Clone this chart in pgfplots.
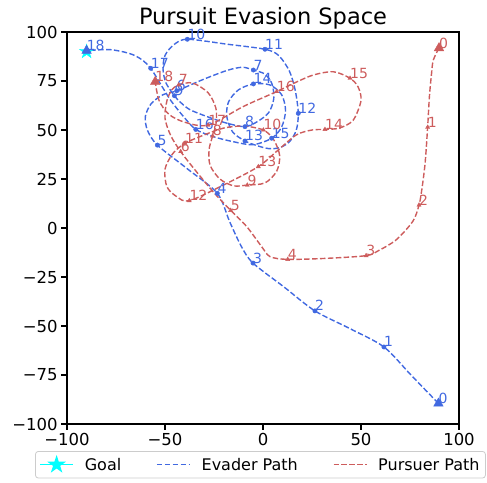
\documentclass[border=0pt]{standalone}
\usepackage{pgfplots}
\pgfplotsset{compat=1.18}
\usepackage{fontspec}
\setmainfont{DejaVu Sans}
\definecolor{eva}{RGB}{65,105,225}
\definecolor{pur}{RGB}{205,92,92}
\definecolor{goalc}{RGB}{0,255,255}
\pgfdeclareplotmark{fstar}{%
  \pgfpathmoveto{\pgfpointpolar{90}{\pgfplotmarksize}}%
  \pgfpathlineto{\pgfpointpolar{126}{0.382\pgfplotmarksize}}%
  \pgfpathlineto{\pgfpointpolar{162}{\pgfplotmarksize}}%
  \pgfpathlineto{\pgfpointpolar{198}{0.382\pgfplotmarksize}}%
  \pgfpathlineto{\pgfpointpolar{234}{\pgfplotmarksize}}%
  \pgfpathlineto{\pgfpointpolar{270}{0.382\pgfplotmarksize}}%
  \pgfpathlineto{\pgfpointpolar{306}{\pgfplotmarksize}}%
  \pgfpathlineto{\pgfpointpolar{342}{0.382\pgfplotmarksize}}%
  \pgfpathlineto{\pgfpointpolar{18}{\pgfplotmarksize}}%
  \pgfpathlineto{\pgfpointpolar{54}{0.382\pgfplotmarksize}}%
  \pgfpathclose\pgfusepathqfillstroke}
\begin{document}
\begin{tikzpicture}
\begin{axis}[
  at={(0pt,0pt)}, anchor=south west,
  scale only axis, width=392pt, height=392pt,
  xmin=-100, xmax=100, ymin=-100, ymax=100,
  xtick={-100,-50,0,50,100},
  xticklabels={−100,−50,0,50,100},
  ytick={-100,-75,-50,-25,0,25,50,75,100},
  yticklabels={−100,−75,−50,−25,0,25,50,75,100},
  tick align=outside, major tick length=5.8pt,
  every tick/.style={black, line width=1.3pt},
  axis line style={line width=1.3pt},
  tick label style={font=\fontsize{16.5}{18}\selectfont},
  xtick pos=bottom, ytick pos=left,
  title={Pursuit Evasion Space},
  title style={at={(0.5,1)}, anchor=base, yshift=1.5pt, font=\fontsize{22.5}{26}\selectfont},
  legend columns=3,
  legend style={at={(-0.0816,-0.0689)}, anchor=north west, draw=black!20, line width=0.8pt,
    rounded corners=3pt, font=\fontsize{16}{18}\selectfont, inner xsep=4pt, inner ysep=4.5pt,
    /tikz/every odd column/.append style={column sep=9pt},
    /tikz/every even column/.append style={column sep=33pt}},
  legend image code/.code={\draw[mark repeat=2,mark phase=2,#1] plot coordinates {(0pt,0pt)(16.5pt,0pt)(33pt,0pt)};},
]
\addlegendimage{goalc, line width=1.4pt, mark=fstar, mark size=7.5pt, mark options={solid, fill=goalc}}
\addlegendentry{Goal}
\addlegendimage{eva, line width=1.4pt, dash pattern=on 5.5pt off 2.4pt}
\addlegendentry{Evader Path}
\addlegendimage{pur, line width=1.4pt, dash pattern=on 5.5pt off 2.4pt}
\addlegendentry{Pursuer Path}

% goal
\addplot[forget plot, only marks, mark=fstar, mark size=7.5pt, draw=goalc, fill=goalc] coordinates {(-90,90)};

% evader path (traced from the picture)
\addplot[forget plot, eva, line width=1.4pt, dash pattern=on 5.5pt off 2.4pt, smooth, tension=0.5] coordinates {
(89.5,-89.5) (75.6,-75.1)
(61.7,-60.7) (44.3,-51.3)
(26.5,-42.3) (10.6,-30)
(-5.1,-17.9) (-11,-9.5) (-17,3.2)
(-23.3,17.7) (-38.6,30.2)
(-53.9,42.3)
(-59,50) (-60,57) (-57,63.5) (-51,68)
(-44,70)
(-30,76) (-18,80.5) (-10.5,82)
(-4.9,80.6)
(1,78.5) (4.6,73.5) (5.5,66) (3,59) (-2.5,54.5)
(-9.2,51.7)
(-18.5,53.5) (-29,57) (-37.5,60.5) (-42.5,64.5)
(-45.2,67.5)
(-49.5,74) (-51,81) (-50,88) (-45.5,93.5)
(-38.6,96.3)
(-18.5,93.8)
(1,91.2)
(8,88) (13.5,80) (16.5,70)
(18,58.5)
(17,50) (13.5,44) (8.5,41) (3,40.5) (-3,42)
(-9.2,44.4)
(-15.5,49) (-18.5,57) (-17.5,64.5) (-12.5,70.5)
(-4.9,73.5)
(3.5,73) (9.5,68) (11.5,60) (9.5,51.5)
(4.4,45.8)
(-5,42.5) (-15,44) (-25,46.5)
(-34.3,50.3)
(-40.6,56.9) (-47,65) (-52.5,73.8)
(-57.3,81.5)
(-62,86) (-68,89) (-78,91)
(-90,90.5)};
\addplot[forget plot, only marks, eva, mark=*, mark size=2.2pt, point meta=explicit symbolic,
  nodes near coords, nodes near coords style={anchor=base west, inner sep=0pt, font=\fontsize{14}{14}\selectfont, text=eva}]
coordinates {
(61.7,-60.7) [1] (26.5,-42.3) [2] (-5.1,-17.9) [3] (-23.3,17.7) [4] (-53.9,42.3) [5] (-44,70) [6] (-4.9,80.6) [7]
(-9.2,51.7) [8] (-45.2,67.5) [9] (-38.6,96.3) [10] (1,91.2) [11] (18,58.5) [12] (-9.2,44.4) [13] (-4.9,73.5) [14] (4.4,45.8) [15]
(-34.3,50.3) [16] (-57.3,81.5) [17]};
\addplot[forget plot, only marks, eva, mark=triangle*, mark size=5.5pt, point meta=explicit symbolic,
  nodes near coords, nodes near coords style={anchor=base west, inner sep=0pt, font=\fontsize{14}{14}\selectfont, text=eva}]
coordinates {(89.5,-89.5) [0] (-90,90.5) [18]};

% pursuer path (traced from the picture)
\addplot[forget plot, pur, line width=1.4pt, dash pattern=on 5.5pt off 2.4pt, smooth, tension=0.5] coordinates {
(89.8,91.8) (86.9,85.7) (86,78.9) (84.9,67)
(84,51.4)
(82.7,33) (81,19.4)
(79.6,11.7)
(76.5,3.5) (68,-6) (59,-11.5)
(52.6,-14.1)
(32,-15.5)
(12.6,-16)
(3.6,-14.6) (-0.7,-9.5) (-8.3,0.7)
(-16.5,9)
(-25,18) (-35,30)
(-42,39)
(-47,47) (-50,56) (-49,65) (-46.5,70.5)
(-43,73)
(-36,74) (-28,69) (-24,61) (-24,53)
(-25.7,47)
(-27.5,40) (-27,32) (-22,25) (-15,21.5)
(-8,21.9)
(1,23) (7,29) (8.5,37) (5.5,45)
(0.2,50)
(-10,52) (-20,51) (-30,47.5)
(-39.8,43.2)
(-46,38) (-50,30) (-49,21) (-44,16)
(-37.6,13.9)
(-20,22)
(-2.4,31.3)
(8,40) (17,47.5) (25,50)
(31.6,50.3)
(39,51) (46,55) (50,65) (48.5,72)
(44.4,76.4)
(36,79.7) (25.5,78) (15,73.5)
(7,69.6)
(-10,62)
(-28,52.5)
(-40,54) (-48,58) (-53,65)
(-55,74.6)};
\addplot[forget plot, only marks, pur, mark=triangle*, mark size=2.4pt, point meta=explicit symbolic,
  nodes near coords, nodes near coords style={anchor=base west, inner sep=0pt, font=\fontsize{14}{14}\selectfont, text=pur}]
coordinates {
(84,51.4) [1] (79.6,11.7) [2] (52.6,-14.1) [3] (12.6,-16) [4] (-16.5,9) [5] (-42,39) [6] (-43,73) [7] (-25.7,47) [8]
(-8,21.9) [9] (0.2,50) [10] (-39.8,43.2) [11] (-37.6,13.9) [12] (-2.4,31.3) [13] (31.6,50.3) [14] (44.4,76.4) [15] (7,69.6) [16] (-28,52.5) [17]};
\addplot[forget plot, only marks, pur, mark=triangle*, mark size=5.5pt, point meta=explicit symbolic,
  nodes near coords, nodes near coords style={anchor=base west, inner sep=0pt, font=\fontsize{14}{14}\selectfont, text=pur}]
coordinates {(89.8,91.8) [0] (-55,74.6) [18]};
\end{axis}
\pgfresetboundingbox
\useasboundingbox (-67pt,-58pt) rectangle (420pt,424pt);
\end{tikzpicture}
\end{document}
